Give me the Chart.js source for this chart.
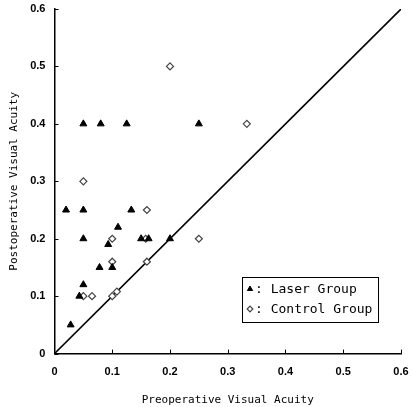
<!DOCTYPE html>
<html>
<head>
<meta charset="utf-8">
<script src="https://cdn.jsdelivr.net/npm/chart.js@4.4.1/dist/chart.umd.min.js"></script>
<style>
  html, body { margin: 0; padding: 0; background: #fff; }
  #wrap { width: 412px; height: 407px; }
</style>
</head>
<body>
<div id="wrap"><canvas id="scatterChart" width="412" height="407"></canvas></div>
<script>
// Данные
const laserX = [0.05, 0.08, 0.125, 0.25, 0.02, 0.05, 0.133, 0.11, 0.05, 0.15, 0.163, 0.2, 0.093, 0.078, 0.1, 0.05, 0.043, 0.028];
const laserY = [0.4, 0.4, 0.4, 0.4, 0.25, 0.25, 0.25, 0.22, 0.2, 0.2, 0.2, 0.2, 0.19, 0.15, 0.15, 0.12, 0.1, 0.05];
const controlX = [0.2, 0.333, 0.05, 0.16, 0.25, 0.1, 0.158, 0.1, 0.16, 0.05, 0.065, 0.1, 0.108];
const controlY = [0.5, 0.4, 0.3, 0.25, 0.2, 0.2, 0.2, 0.16, 0.16, 0.1, 0.1, 0.1, 0.108];
const diagonalX = [0, 0.6];
const diagonalY = [0, 0.6];
const tickValues = [0, 0.1, 0.2, 0.3, 0.4, 0.5, 0.6];
const seriesLabels = ['Laser Group', 'Control Group'];
const axisTitles = ['Preoperative Visual Acuity', 'Postoperative Visual Acuity'];

function toPoints(xs, ys) {
    return xs.map((x, i) => ({ x: x, y: ys[i] }));
}

function formatTick(value) {
    return value === 0 ? '0' : value.toFixed(1);
}

// Убираем автоматические отступы под крайние подписи
function noEdgePadding(scale) {
    scale.paddingTop = 0;
    scale.paddingBottom = 0;
    scale.paddingLeft = 0;
    scale.paddingRight = 0;
}

// Внутренние засечки на осях
const inwardTicks = {
    id: 'inwardTicks',
    afterDatasetsDraw(chart) {
        const ctx = chart.ctx;
        const xs = chart.scales.x;
        const ys = chart.scales.y;
        ctx.save();
        ctx.strokeStyle = '#000';
        ctx.lineWidth = 1;
        tickValues.forEach(v => {
            const px = Math.round(xs.getPixelForValue(v)) + 0.5;
            ctx.beginPath();
            ctx.moveTo(px, ys.bottom);
            ctx.lineTo(px, ys.bottom - 4);
            ctx.stroke();
            const py = Math.round(ys.getPixelForValue(v)) + 0.5;
            ctx.beginPath();
            ctx.moveTo(xs.left, py);
            ctx.lineTo(xs.left + 4, py);
            ctx.stroke();
        });
        ctx.restore();
    }
};

// Легенда в рамке внутри области графика
const boxLegend = {
    id: 'boxLegend',
    afterDraw(chart) {
        const ctx = chart.ctx;
        const area = chart.chartArea;
        const left = area.right - 159;
        const top = area.top + 268;
        const w = 136;
        const h = 45;
        ctx.save();
        ctx.fillStyle = '#fff';
        ctx.fillRect(left, top, w, h);
        ctx.strokeStyle = '#000';
        ctx.lineWidth = 1;
        ctx.strokeRect(left + 0.5, top + 0.5, w, h);

        ctx.textBaseline = 'middle';
        const rows = [top + 12, top + 32];
        chart.data.datasets.slice(0, 2).forEach((ds, i) => {
            ctx.fillStyle = ds.backgroundColor;
            ctx.strokeStyle = ds.borderColor;
            ctx.lineWidth = ds.borderWidth;
            Chart.helpers.drawPoint(ctx, {
                pointStyle: ds.pointStyle,
                radius: i === 0 ? 3 : 2.8,
                rotation: 0,
                borderWidth: ds.borderWidth
            }, left + 8, rows[i]);
            ctx.font = '13px "DejaVu Sans Mono"';
            ctx.fillStyle = '#000';
            ctx.fillText(': ' + ds.label, left + 13, rows[i] + 1);
        });
        ctx.restore();
    }
};

function initChart() {
    const canvas = document.getElementById('scatterChart');
    const tickFont = { family: '"Liberation Sans", Arial, sans-serif', size: 11, weight: 'bold' };
    const titleFont = { family: '"DejaVu Sans Mono", monospace', size: 11 };

    new Chart(canvas.getContext('2d'), {
        type: 'scatter',
        data: {
            datasets: [{
                label: seriesLabels[0],
                data: toPoints(laserX, laserY),
                pointStyle: 'triangle',
                pointRadius: 4,
                backgroundColor: '#000',
                borderColor: '#000',
                borderWidth: 1
            }, {
                label: seriesLabels[1],
                data: toPoints(controlX, controlY),
                pointStyle: 'rectRot',
                pointRadius: 3.5,
                backgroundColor: '#fff',
                borderColor: '#444',
                borderWidth: 1.2
            }, {
                type: 'line',
                label: 'diagonal',
                data: toPoints(diagonalX, diagonalY),
                borderColor: '#000',
                borderWidth: 1.6,
                pointRadius: 0,
                fill: false
            }]
        },
        options: {
            responsive: false,
            animation: false,
            layout: { padding: { top: 9, right: 11, left: 8, bottom: 0 } },
            plugins: {
                legend: { display: false },
                tooltip: { enabled: false }
            },
            scales: {
                x: {
                    type: 'linear',
                    min: 0,
                    max: 0.6,
                    afterBuildTicks: axis => { axis.ticks = tickValues.map(v => ({ value: v })); },
                    afterFit: noEdgePadding,
                    ticks: { color: '#000', font: tickFont, padding: 12, maxRotation: 0, callback: formatTick },
                    grid: { drawOnChartArea: false, drawTicks: false },
                    border: { color: '#000', width: 1.5 },
                    title: { display: true, text: axisTitles[0], color: '#000', font: titleFont, padding: { top: 3, bottom: 0 } }
                },
                y: {
                    type: 'linear',
                    min: 0,
                    max: 0.6,
                    afterBuildTicks: axis => { axis.ticks = tickValues.map(v => ({ value: v })); },
                    afterFit: noEdgePadding,
                    ticks: { color: '#000', font: tickFont, padding: 9, callback: formatTick },
                    grid: { drawOnChartArea: false, drawTicks: false },
                    border: { color: '#000', width: 1.5 },
                    title: { display: true, text: axisTitles[1], color: '#000', font: titleFont, padding: { top: 0, bottom: 0 } }
                }
            }
        },
        plugins: [inwardTicks, boxLegend]
    });
}

initChart();
</script>
</body>
</html>
